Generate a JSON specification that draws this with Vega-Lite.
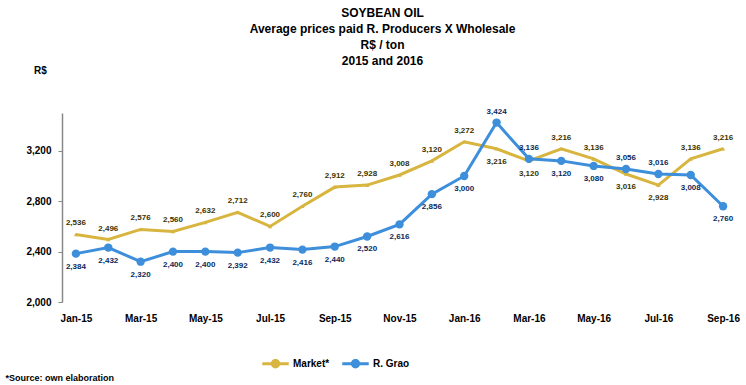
{
  "$schema": "https://vega.github.io/schema/vega-lite/v6.json",
  "autosize": {"type": "none"},
  "width": 675,
  "height": 189,
  "padding": {"left": 62, "top": 113, "right": 9, "bottom": 83},
  "background": "white",
  "config": {
    "view": {"stroke": null},
    "font": "Liberation Sans",
    "axis": {"labelFont": "Liberation Sans", "titleFont": "Liberation Sans"},
    "legend": {"labelFont": "Liberation Sans"}
  },
  "title": {
    "text": ["SOYBEAN OIL", "Average prices paid R. Producers X Wholesale", "R$ / ton", "2015 and 2016"],
    "anchor": "middle",
    "frame": "group",
    "dx": -17,
    "fontSize": 12,
    "fontWeight": "bold",
    "lineHeight": 16,
    "offset": -3,
    "color": "black"
  },
  "data": {
    "values": [
      {"month": "Jan-15", "series": "Market*", "price": 2536},
      {"month": "Feb-15", "series": "Market*", "price": 2496},
      {"month": "Mar-15", "series": "Market*", "price": 2576},
      {"month": "Apr-15", "series": "Market*", "price": 2560},
      {"month": "May-15", "series": "Market*", "price": 2632},
      {"month": "Jun-15", "series": "Market*", "price": 2712},
      {"month": "Jul-15", "series": "Market*", "price": 2600},
      {"month": "Aug-15", "series": "Market*", "price": 2760},
      {"month": "Sep-15", "series": "Market*", "price": 2912},
      {"month": "Oct-15", "series": "Market*", "price": 2928},
      {"month": "Nov-15", "series": "Market*", "price": 3008},
      {"month": "Dec-15", "series": "Market*", "price": 3120},
      {"month": "Jan-16", "series": "Market*", "price": 3272},
      {"month": "Feb-16", "series": "Market*", "price": 3216},
      {"month": "Mar-16", "series": "Market*", "price": 3120},
      {"month": "Apr-16", "series": "Market*", "price": 3216},
      {"month": "May-16", "series": "Market*", "price": 3136},
      {"month": "Jun-16", "series": "Market*", "price": 3016},
      {"month": "Jul-16", "series": "Market*", "price": 2928},
      {"month": "Aug-16", "series": "Market*", "price": 3136},
      {"month": "Sep-16", "series": "Market*", "price": 3216},
      {"month": "Jan-15", "series": "R. Grao", "price": 2384},
      {"month": "Feb-15", "series": "R. Grao", "price": 2432},
      {"month": "Mar-15", "series": "R. Grao", "price": 2320},
      {"month": "Apr-15", "series": "R. Grao", "price": 2400},
      {"month": "May-15", "series": "R. Grao", "price": 2400},
      {"month": "Jun-15", "series": "R. Grao", "price": 2392},
      {"month": "Jul-15", "series": "R. Grao", "price": 2432},
      {"month": "Aug-15", "series": "R. Grao", "price": 2416},
      {"month": "Sep-15", "series": "R. Grao", "price": 2440},
      {"month": "Oct-15", "series": "R. Grao", "price": 2520},
      {"month": "Nov-15", "series": "R. Grao", "price": 2616},
      {"month": "Dec-15", "series": "R. Grao", "price": 2856},
      {"month": "Jan-16", "series": "R. Grao", "price": 3000},
      {"month": "Feb-16", "series": "R. Grao", "price": 3424},
      {"month": "Mar-16", "series": "R. Grao", "price": 3136},
      {"month": "Apr-16", "series": "R. Grao", "price": 3120},
      {"month": "May-16", "series": "R. Grao", "price": 3080},
      {"month": "Jun-16", "series": "R. Grao", "price": 3056},
      {"month": "Jul-16", "series": "R. Grao", "price": 3016},
      {"month": "Aug-16", "series": "R. Grao", "price": 3008},
      {"month": "Sep-16", "series": "R. Grao", "price": 2760}
    ]
  },
  "encoding": {
    "x": {
      "field": "month",
      "type": "ordinal",
      "sort": ["Jan-15","Feb-15","Mar-15","Apr-15","May-15","Jun-15","Jul-15","Aug-15","Sep-15","Oct-15","Nov-15","Dec-15","Jan-16","Feb-16","Mar-16","Apr-16","May-16","Jun-16","Jul-16","Aug-16","Sep-16"],
      "scale": {"type": "point", "padding": 0.43},
      "axis": {
        "values": ["Jan-15","Mar-15","May-15","Jul-15","Sep-15","Nov-15","Jan-16","Mar-16","May-16","Jul-16","Sep-16"],
        "labelAngle": 0,
        "domain": false,
        "ticks": false,
        "labelFontWeight": "bold",
        "labelFontSize": 10,
        "labelColor": "black",
        "labelPadding": 11,
        "title": "*Source: own elaboration",
        "titleFontSize": 9,
        "titleFontWeight": "bold",
        "titleColor": "black",
        "titleAnchor": "start",
        "titleAlign": "left",
        "titleX": -57,
        "titleY": 75,
        "titleBaseline": "middle"
      }
    },
    "y": {
      "field": "price",
      "type": "quantitative",
      "scale": {"domain": [2000, 3500], "nice": false, "zero": false},
      "axis": {
        "values": [2000, 2400, 2800, 3200],
        "format": ",.0f",
        "grid": false,
        "domainColor": "#888888",
        "domainWidth": 1.5,
        "tickColor": "#888888",
        "tickSize": 4,
        "labelFontWeight": "bold",
        "labelFontSize": 10,
        "labelColor": "black",
        "labelPadding": 7,
        "title": "R$",
        "titleAngle": 0,
        "titleFontSize": 10,
        "titleFontWeight": "bold",
        "titleColor": "black",
        "titleAlign": "center",
        "titleBaseline": "middle",
        "titleX": -22,
        "titleY": -43
      }
    }
  },
  "layer": [
    {
      "mark": {"type": "line", "strokeWidth": 3},
      "encoding": {
        "detail": {"field": "series"},
        "color": {"condition": {"test": "datum.series === 'R. Grao'", "value": "#3D8EDB"}, "value": "#D7B53F"}
      }
    },
    {
      "mark": {"type": "point", "filled": true, "opacity": 1},
      "encoding": {
        "color": {
          "field": "series",
          "type": "nominal",
          "scale": {"domain": ["Market*", "R. Grao"], "range": ["#D7B53F", "#3D8EDB"]},
          "legend": {
            "orient": "none",
            "direction": "horizontal",
            "legendX": 200,
            "legendY": 237,
            "title": null,
            "symbolType": "M-1,-0.12H1V0.12H-1Z M0,-0.35A0.35,0.35 0 1,1 0,0.35A0.35,0.35 0 1,1 0,-0.35Z",
            "symbolSize": 700,
            "symbolStrokeWidth": 0,
            "labelFontSize": 10,
            "labelFontWeight": "bold",
            "labelColor": "black",
            "columnPadding": 12,
            "labelOffset": 4
          }
        },
        "size": {"condition": {"test": "datum.series === 'R. Grao'", "value": 70}, "value": 18},
        "shape": {"condition": {"test": "datum.series === 'R. Grao'", "value": "circle"}, "value": "triangle-up"}
      }
    },
    {
      "transform": [{"filter": "(datum.series === 'Market*' && indexof(['Feb-16','Mar-16','Jun-16','Jul-16'], datum.month) < 0) || (datum.series === 'R. Grao' && indexof(['Feb-16','Mar-16','Jun-16','Jul-16'], datum.month) >= 0)"}],
      "mark": {"type": "text", "dy": -11, "fontSize": 8, "fontWeight": "bold"},
      "encoding": {
        "text": {"field": "price", "type": "quantitative", "format": ","},
        "color": {"condition": {"test": "datum.series === 'R. Grao'", "value": "#0a2a5c"}, "value": "#3b3200"}
      }
    },
    {
      "transform": [{"filter": "(datum.series === 'Market*' && indexof(['Feb-16','Mar-16','Jun-16','Jul-16'], datum.month) >= 0) || (datum.series === 'R. Grao' && indexof(['Feb-16','Mar-16','Jun-16','Jul-16'], datum.month) < 0)"}],
      "mark": {"type": "text", "dy": 13, "fontSize": 8, "fontWeight": "bold"},
      "encoding": {
        "text": {"field": "price", "type": "quantitative", "format": ","},
        "color": {"condition": {"test": "datum.series === 'R. Grao'", "value": "#0a2a5c"}, "value": "#3b3200"}
      }
    }
  ]
}
